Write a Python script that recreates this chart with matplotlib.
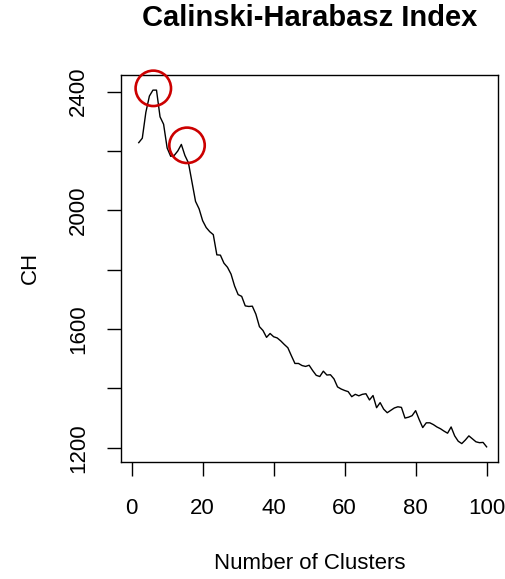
"""Calinski-Harabasz index against number of clusters, R base-graphics look."""

import matplotlib
matplotlib.use("Agg")
import matplotlib.pyplot as plt

plt.rcParams["font.family"] = ["Liberation Sans", "DejaVu Sans"]

# values
N_CLUSTERS = list(range(2, 101))
CH_VALUES = [
    2228, 2243, 2330, 2385, 2405, 2405, 2315, 2290, 2210,        # 2-10
    2182, 2185, 2200, 2222, 2185, 2160, 2095, 2030, 2005, 1965,  # 11-20
    1942, 1928, 1918, 1850, 1849, 1822, 1808, 1785, 1745, 1716,  # 21-30
    1710, 1678, 1676, 1677, 1650, 1608, 1595, 1572, 1585, 1574,  # 31-40
    1570, 1560, 1548, 1537, 1510, 1484, 1484, 1477, 1474, 1478,  # 41-50
    1460, 1444, 1440, 1458, 1445, 1446, 1432, 1405, 1398, 1393,  # 51-60
    1389, 1372, 1380, 1375, 1380, 1382, 1361, 1376, 1335, 1352,  # 61-70
    1330, 1318, 1326, 1334, 1338, 1336, 1300, 1303, 1308, 1325,  # 71-80
    1295, 1268, 1284, 1284, 1278, 1270, 1264, 1256, 1249, 1270,  # 81-90
    1240, 1222, 1214, 1226, 1240, 1230, 1220, 1217, 1218, 1203,  # 91-100
]
# the two highlighted peaks
PEAK_K = [6.1, 15.6]
PEAK_CH = [2411, 2219]

X_TICKS = [0, 20, 40, 60, 80, 100]
Y_TICKS = [1200, 1400, 1600, 1800, 2000, 2200, 2400]
Y_TICK_LABELS = ["1200", "", "1600", "", "2000", "", "2400"]

INK = "#000000"
RED = "#cc0000"


def main() -> None:
    fig = plt.figure(figsize=(5.05, 5.79), dpi=100, facecolor="white")
    ax = fig.add_axes([0.2396, 0.2026, 0.7465, 0.6679])

    ax.plot(N_CLUSTERS, CH_VALUES, color=INK, linewidth=1.0)
    ax.scatter(PEAK_K, PEAK_CH, s=25.5 ** 2, facecolors="none", edgecolors=RED,
               linewidths=1.9, clip_on=False, zorder=3)

    ax.set_xlim(-3.0, 103.2)
    ax.set_ylim(1153, 2456)
    ax.set_xticks(X_TICKS)
    ax.set_yticks(Y_TICKS)
    ax.set_yticklabels(Y_TICK_LABELS, rotation=90, va="center")

    for side in ax.spines.values():
        side.set_linewidth(1.0)
        side.set_color(INK)
    ax.tick_params(direction="out", length=10, width=1.0, colors=INK, labelsize=16)
    ax.tick_params(axis="x", pad=16)
    ax.tick_params(axis="y", pad=13)

    ax.set_xlabel("Number of Clusters", fontsize=16, va="center")
    ax.xaxis.set_label_coords(0.5, -0.262)
    ax.set_ylabel("CH", fontsize=16, va="center")
    ax.yaxis.set_label_coords(-0.24, 0.5)
    fig.text(309.5 / 505, 1 - 18 / 579, "Calinski-Harabasz Index", fontsize=21,
             fontweight="bold", ha="center", va="center")

    fig.savefig("out.png", dpi=100, facecolor="white")


if __name__ == "__main__":
    main()
